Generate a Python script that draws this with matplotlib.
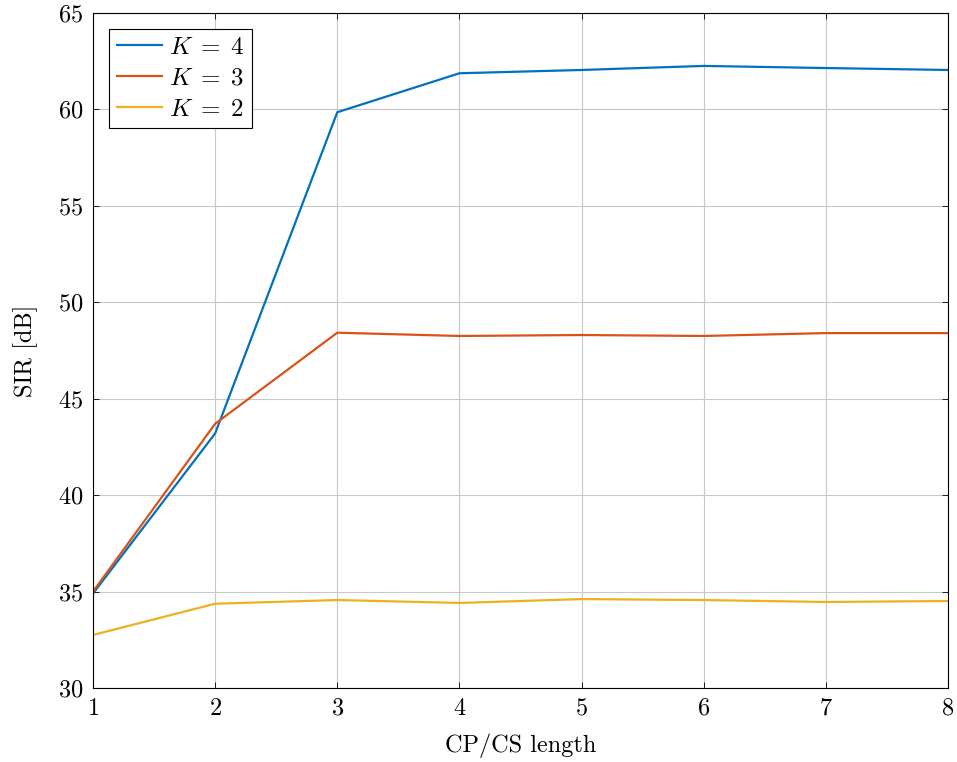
import matplotlib
matplotlib.use("Agg")
import matplotlib.pyplot as plt

plt.rcParams.update({
    "font.family": "serif",
    "font.serif": ["cmr10"],
    "mathtext.fontset": "cm",
    "axes.formatter.use_mathtext": True,
    "font.size": 17.5,
})

cp_len = [1, 2, 3, 4, 5, 6, 7, 8]
sir_k4 = [34.9, 43.2, 59.85, 61.87, 62.04, 62.25, 62.14, 62.04]
sir_k3 = [35.0, 43.7, 48.42, 48.25, 48.3, 48.25, 48.4, 48.4]
sir_k2 = [32.75, 34.37, 34.56, 34.41, 34.61, 34.56, 34.46, 34.51]
labels = [r"$K\;=\;4$", r"$K\;=\;3$", r"$K\;=\;2$"]
colors = ["#0072BD", "#D95319", "#EDB120"]

fig = plt.figure(figsize=(9.57, 7.62), dpi=100)
ax = fig.add_axes([0.0972, 0.0971, 0.8934, 0.886])

for y, lab, c in zip([sir_k4, sir_k3, sir_k2], labels, colors):
    ax.plot(cp_len, y, color=c, lw=1.6, label=lab)

ax.set_xlim(1, 8)
ax.set_ylim(30, 65)
ax.set_xticks(cp_len)
ax.set_yticks(range(30, 66, 5))
ax.grid(True, color="#c8c8c8", lw=0.8)
ax.tick_params(direction="in", top=True, right=True, length=4, pad=7, width=0.6)
for s in ax.spines.values():
    s.set_linewidth(0.8)
ax.set_xlabel("CP/CS length", labelpad=10)
ax.set_ylabel("SIR [dB]", labelpad=14)

leg = ax.legend(loc="upper left", fancybox=False, framealpha=1, edgecolor="black",
                handlelength=1.8, handletextpad=0.3, borderaxespad=0.65,
                labelspacing=0.33, borderpad=0.3, prop={"size": 18})
leg.get_frame().set_linewidth(0.8)

fig.savefig("out.png", dpi=100)
